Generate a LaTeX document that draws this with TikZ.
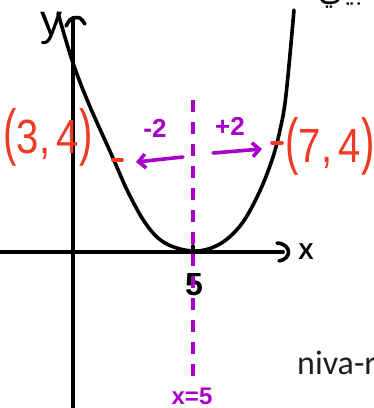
\documentclass[tikz,border=0pt]{standalone}
\usepackage{fontspec}
\setmainfont{Liberation Sans}
\newfontfamily\arabicfont[Script=Arabic]{DejaVu Sans}
\newfontfamily\notefont{Carlito}
\TeXXeTstate=1
\usetikzlibrary{arrows.meta}
\definecolor{penred}{RGB}{240,58,38}
\definecolor{penpurple}{RGB}{168,0,200}
\definecolor{notegray}{RGB}{30,30,30}
\tikzset{
 ink/.style={line width=3.6pt, line cap=round, line join=round},
 axisline/.style={ink,black},
 curveline/.style={ink,black},
 symline/.style={line width=4pt,penpurple,dash pattern=on 12pt off 10pt},
 shiftarrow/.style={ink,penpurple,-{Straight Barb[length=7pt 0,width=14pt 0,line width=3.6pt]}},
 pointtick/.style={ink,penred},
 pointlabel/.style={text=penred,font=\fontsize{40}{40}\selectfont,inner sep=0pt},
 stepnum/.style={text=penpurple,font=\bfseries\fontsize{26}{26}\selectfont,inner sep=0pt},
 axislabel/.style={text=black,inner sep=0pt},
}
\begin{document}
\begin{tikzpicture}[x=1pt,y=-1pt]
\useasboundingbox (0,0) rectangle (374,408);
\clip (0,0) rectangle (374,408);
\fill[white] (0,0) rectangle (374,408);

% Arabic fragment (clipped at the top)
\node[anchor=base east,inner sep=0pt,font=\arabicfont\fontsize{32}{32}\selectfont] (arab) at (364,0) {\beginR بيي\endR};

% axes
\coordinate (xstart) at (0,252);
\coordinate (xend) at (283,252);
\coordinate (ybottom) at (73,412);
\coordinate (ytop) at (73,18);
\coordinate (yarml) at (66,26);
\coordinate (yarmr) at (85,24);
\coordinate (xarmt) at (277,243);
\coordinate (xarmb) at (279,261);
\draw[axisline] (xstart) -- (xend);
\draw[axisline] (ybottom) -- (ytop);
\draw[axisline] (yarml) .. controls (70,19) .. (ytop) .. controls (80,17) .. (yarmr);
\draw[axisline] (xarmt) .. controls (292,244) and (292,259) .. (xarmb);
\node[axislabel,anchor=base,font=\bfseries\fontsize{23}{23}\selectfont] (xlab) at (306,259) {X};
\node[axislabel,anchor=base,font=\fontsize{44}{44}\selectfont] (ylab) at (52,35) {y};

% tick and label 5
\coordinate (ticktop) at (193,246);
\coordinate (tickbot) at (193,262);
\draw[axisline] (ticktop) -- (tickbot);
\node[axislabel,anchor=base,font=\bfseries\fontsize{32}{32}\selectfont] (five) at (194,295) {5};

% parabola
\draw[curveline] plot[smooth,tension=0.6] coordinates {
 (58,13) (72,60) (88,102) (113,158) (128,192) (146,224)
 (165,243) (193,251) (218,245) (240,226) (258,195)
 (272,160) (280,130) (286,95) (294,10)};

% axis of symmetry
\coordinate (symtop) at (193,100);
\coordinate (symbot) at (193,376);
\draw[symline] (symtop) -- (symbot);
\node[stepnum,font=\bfseries\fontsize{24}{24}\selectfont,anchor=base] (symlab) at (192,404) {x=5};

% shift arrows
\coordinate (lstart) at (183,157);
\coordinate (lend) at (136,162);
\coordinate (rstart) at (213,153);
\coordinate (rend) at (262,149);
\draw[shiftarrow] (lstart) -- (lend);
\draw[shiftarrow] (rstart) -- (rend);
\node[stepnum,anchor=base] (minustwo) at (155,137) {-2};
\node[stepnum,anchor=base] (plustwo) at (230,135) {+2};

% points
\coordinate (ptla) at (113,160);
\coordinate (ptlb) at (122,160);
\coordinate (ptra) at (272,143);
\coordinate (ptrb) at (282,143);
\draw[pointtick] (ptla) -- (ptlb);
\draw[pointtick] (ptra) -- (ptrb);
\node[pointlabel,anchor=base] (pleft) at (48,153)
 {\scalebox{1}[1.55]{(}\scalebox{1}[1.2]{3,\,4}\scalebox{1}[1.55]{)}};
\node[pointlabel,anchor=base] (pright) at (330,162)
 {\scalebox{1}[1.55]{(}\scalebox{1}[1.2]{7,\,4}\scalebox{1}[1.55]{)}};

% stray note text
\node[anchor=base west,inner sep=0pt,text=notegray,font=\notefont\fontsize{34}{34}\selectfont] (note) at (297,374) {niva-r};
\end{tikzpicture}
\end{document}
